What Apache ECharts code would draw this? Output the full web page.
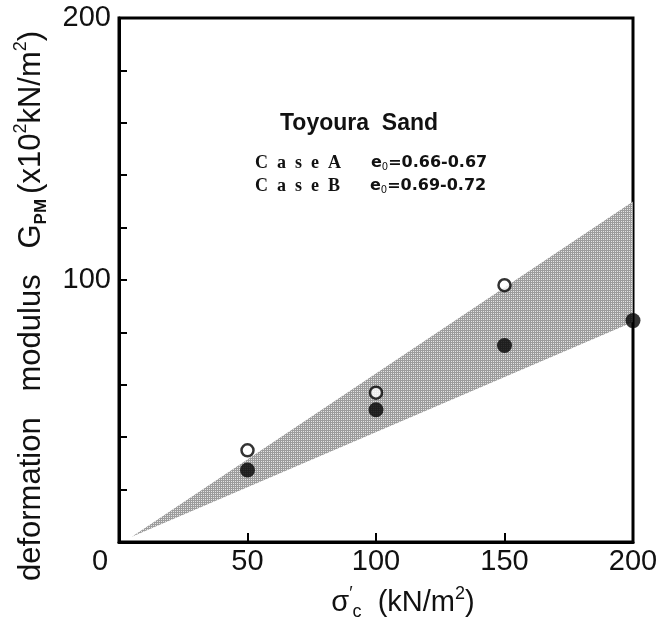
<!doctype html>
<html>
<head>
<meta charset="utf-8">
<title>Toyoura Sand</title>
<script src="https://cdn.jsdelivr.net/npm/echarts@6/dist/echarts.min.js"></script>
<style>
html, body { margin: 0; padding: 0; background: #fff; }
#main { width: 662px; height: 624px; }
</style>
</head>
<body>
<div id="main"></div>
<script>
// values
var xTicks = [0, 50, 100, 150, 200];
var yLabelValues = [100, 200];
var caseA = [[50, 35], [100, 57], [150, 98]];                  // open circles
var caseB = [[50, 27.5], [100, 50.5], [150, 75], [200, 84.5]]; // filled circles
var bandLower = [[5, 2], [200, 84]];
var bandUpper = [[5, 2], [200, 130]];

var font = 'Liberation Sans';

// small cross-hatch tile for the shaded band
var tile = document.createElement('canvas');
tile.width = 4; tile.height = 4;
var tc = tile.getContext('2d');
tc.fillStyle = '#9c9c9c';
tc.fillRect(0, 0, 4, 4);
tc.fillStyle = '#e4e4e4';
[[1, 1], [3, 3], [1, 3], [3, 1]].forEach(function (p) { tc.fillRect(p[0], p[1], 1, 1); });
var hatch = { image: tile, repeat: 'repeat' };

var chart = echarts.init(document.getElementById('main'));

chart.setOption({
	animation: false,
	grid: {
		left: 119, top: 18, right: 29, bottom: 82,
		show: true, borderColor: '#000', borderWidth: 3
	},
	xAxis: {
		type: 'value', min: 0, max: 200, interval: 50,
		axisLine: { lineStyle: { color: '#000', width: 3 } },
		axisTick: { inside: true, length: 9, lineStyle: { color: '#000', width: 2 } },
		splitLine: { show: false },
		axisLabel: {
			margin: 5, color: '#111', fontFamily: font, fontSize: 29,
			formatter: function (v) {
				if (v === 0) return '{z|0}';
				return xTicks.indexOf(v) >= 0 ? String(v) : '';
			},
			rich: { z: { fontFamily: font, fontSize: 29, color: '#111', padding: [0, 38, 0, 0] } }
		}
	},
	yAxis: {
		type: 'value', min: 0, max: 200, interval: 20,
		axisLine: { lineStyle: { color: '#000', width: 3 } },
		axisTick: { inside: true, length: 8, lineStyle: { color: '#000', width: 2 } },
		splitLine: { show: false },
		axisLabel: {
			margin: 8, color: '#111', fontFamily: font, fontSize: 29,
			formatter: function (v) { return yLabelValues.indexOf(v) >= 0 ? String(v) : ''; }
		}
	},
	graphic: [
		{
			type: 'text', left: 280, top: 112, z: 10,
			style: { text: 'Toyoura  Sand', font: 'bold 23px "Liberation Sans"', fill: '#111' }
		},
		{
			type: 'text', left: 255, top: 154, z: 10,
			style: {
				text: '{c|C  a  s  e  A}{g|}{e|e}{s|0}{e|=0.66-0.67}',
				rich: {
					c: { fontFamily: 'Liberation Serif', fontWeight: 'bold', fontSize: 18, fill: '#111' },
					g: { width: 30 },
					e: { fontFamily: 'DejaVu Sans', fontWeight: 'bold', fontSize: 16, fill: '#111' },
					s: { fontFamily: 'DejaVu Sans', fontSize: 10, fill: '#111', verticalAlign: 'bottom' }
				}
			}
		},
		{
			type: 'text', left: 255, top: 177, z: 10,
			style: {
				text: '{c|C  a  s  e  B}{g|}{e|e}{s|0}{e|=0.69-0.72}',
				rich: {
					c: { fontFamily: 'Liberation Serif', fontWeight: 'bold', fontSize: 18, fill: '#111' },
					g: { width: 30 },
					e: { fontFamily: 'DejaVu Sans', fontWeight: 'bold', fontSize: 16, fill: '#111' },
					s: { fontFamily: 'DejaVu Sans', fontSize: 10, fill: '#111', verticalAlign: 'bottom' }
				}
			}
		},
		{
			type: 'text', x: 31, y: 306, rotation: Math.PI / 2, z: 10,
			style: {
				text: '{t|deformation   modulus   G}{b|PM}{t|(x10}{p|2}{t|kN/m}{p|2}{t|)}',
				align: 'center', verticalAlign: 'middle',
				rich: {
					t: { fontFamily: font, fontSize: 31, fill: '#111', lineHeight: 38 },
					b: { fontFamily: font, fontWeight: 'bold', fontSize: 17, fill: '#111', verticalAlign: 'bottom', lineHeight: 36, padding: [0, 5, 0, 0] },
					p: { fontFamily: font, fontSize: 18, fill: '#111', verticalAlign: 'top', lineHeight: 38 }
				}
			}
		},
		{
			type: 'text', x: 403, y: 603, z: 10,
			style: {
				text: '{t|σ}{p|′}{b|c}{t|  (kN/m}{p|2}{t|)}',
				align: 'center', verticalAlign: 'middle',
				rich: {
					t: { fontFamily: font, fontSize: 29, fill: '#111', lineHeight: 36 },
					b: { fontFamily: font, fontSize: 18, fill: '#111', verticalAlign: 'bottom', lineHeight: 32 },
					p: { fontFamily: font, fontSize: 18, fill: '#111', verticalAlign: 'top', lineHeight: 36 }
				}
			}
		}
	],
	series: [
		{
			name: 'band', type: 'custom', silent: true, z: 1,
			data: [0],
			renderItem: function (params, api) {
				var pts = bandLower.map(function (p) { return api.coord(p); })
					.concat(bandUpper.slice().reverse().map(function (p) { return api.coord(p); }));
				return { type: 'polygon', shape: { points: pts }, style: { fill: hatch } };
			}
		},
		{
			name: 'Case A', type: 'scatter', data: caseA, symbol: 'circle', symbolSize: 12, z: 5,
			itemStyle: { color: '#fff', borderColor: '#000', borderWidth: 2.5 }
		},
		{
			name: 'Case B', type: 'scatter', data: caseB, symbol: 'circle', symbolSize: 15, z: 5,
			itemStyle: { color: '#000' }
		}
	]
});
</script>
</body>
</html>
